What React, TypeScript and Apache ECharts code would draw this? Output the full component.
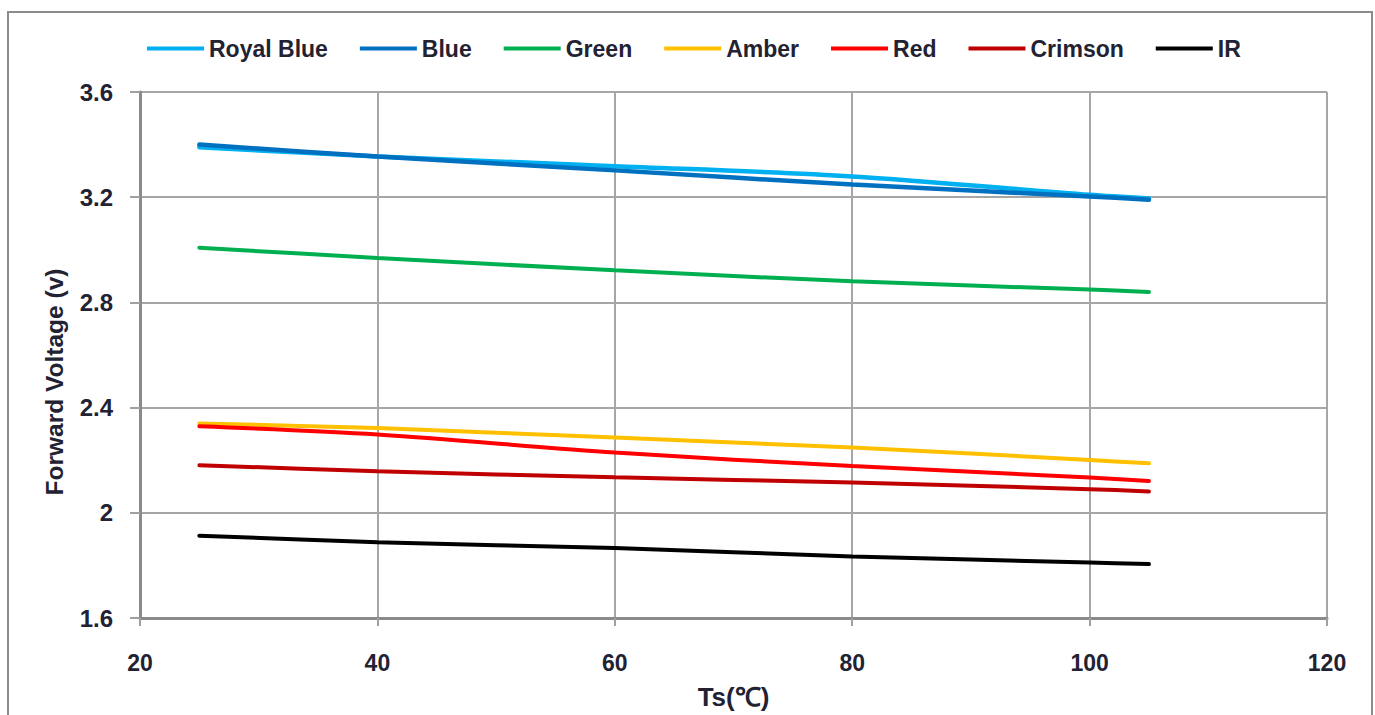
import React, { useEffect, useRef } from "react";
import * as echarts from "echarts";

const temps = [25, 40, 60, 80, 100, 105];
const seriesNames = ["Royal Blue", "Blue", "Green", "Amber", "Red", "Crimson", "IR"];
const royalBlue = [3.39, 3.355, 3.318, 3.279, 3.209, 3.195];
const blue = [3.4, 3.355, 3.302, 3.248, 3.203, 3.19];
const green = [3.008, 2.969, 2.922, 2.88, 2.849, 2.84];
const amber = [2.34, 2.322, 2.286, 2.248, 2.201, 2.188];
const red = [2.329, 2.298, 2.229, 2.178, 2.134, 2.121];
const crimson = [2.181, 2.158, 2.135, 2.115, 2.09, 2.081];
const ir = [1.913, 1.888, 1.866, 1.834, 1.811, 1.805];

const seriesValues = [royalBlue, blue, green, amber, red, crimson, ir];
const colors = ["#00B0F0", "#0070C0", "#00B050", "#FFC000", "#FF0000", "#C00000", "#000000"];
const widths = [4.5, 4.5, 4, 4, 4, 4, 4];

const FONT = '"Liberation Sans", Arial, sans-serif';
const TXT = "#222233";

export default function App() {
  const ref = useRef<HTMLDivElement>(null);
  useEffect(() => {
    if (!ref.current) return;
    const chart = echarts.init(ref.current, null, { renderer: "svg" });
    chart.setOption({
      animation: false,
      backgroundColor: "#ffffff",
      graphic: [
        {
          type: "rect",
          shape: { x: 8, y: 12, width: 1364, height: 730 },
          style: { fill: "none", stroke: "#8c8c8c", lineWidth: 2 },
          z: -1,
        },
        {
          type: "text",
          x: 54,
          y: 382,
          rotation: Math.PI / 2,
          style: {
            text: "Forward Voltage (v)",
            align: "center",
            verticalAlign: "middle",
            font: `bold 24.5px ${FONT}`,
            fill: TXT,
          },
        },
      ],
      legend: {
        left: 142,
        top: 32,
        icon: "rect",
        itemWidth: 57,
        itemHeight: 4,
        itemGap: 32,
        data: seriesNames,
        textStyle: { fontFamily: FONT, fontWeight: "bold", fontSize: 23, color: TXT },
      },
      grid: { left: 140, right: 48, top: 92, bottom: 96 },
      xAxis: {
        type: "value",
        min: 20,
        max: 120,
        interval: 20,
        name: "Ts(℃)",
        nameLocation: "middle",
        nameGap: 66,
        nameTextStyle: { fontFamily: FONT, fontWeight: "bold", fontSize: 26, color: TXT },
        axisLine: { onZero: false, lineStyle: { color: "#8a8a8a", width: 3 } },
        axisTick: { show: true, length: 8, inside: false, lineStyle: { color: "#a0a0a0", width: 2 } },
        axisLabel: { margin: 33, fontFamily: FONT, fontWeight: "bold", fontSize: 23, color: TXT },
        splitLine: { show: true, lineStyle: { color: "#a6a6a6", width: 2 } },
      },
      yAxis: {
        type: "value",
        min: 1.6,
        max: 3.6,
        interval: 0.4,
        axisLine: { show: true, lineStyle: { color: "#8a8a8a", width: 3 } },
        axisTick: { show: true, length: 10, inside: false, lineStyle: { color: "#a0a0a0", width: 2 } },
        axisLabel: {
          margin: 27,
          fontFamily: FONT,
          fontWeight: "bold",
          fontSize: 24,
          color: TXT,
          formatter: (v: number) => String(+v.toFixed(1)),
        },
        splitLine: { show: true, lineStyle: { color: "#a6a6a6", width: 2 } },
      },
      series: seriesNames.map((name, i) => ({
        name,
        type: "line",
        symbol: "none",
        smooth: 0.3,
        color: colors[i],
        lineStyle: { width: widths[i], color: colors[i], cap: "round" },
        data: temps.map((t, j) => [t, seriesValues[i][j]]),
      })),
    });
    return () => chart.dispose();
  }, []);
  return (
    <div
      ref={ref}
      style={{ position: "fixed", left: 0, top: 0, width: 1375, height: 715 }}
    />
  );
}
